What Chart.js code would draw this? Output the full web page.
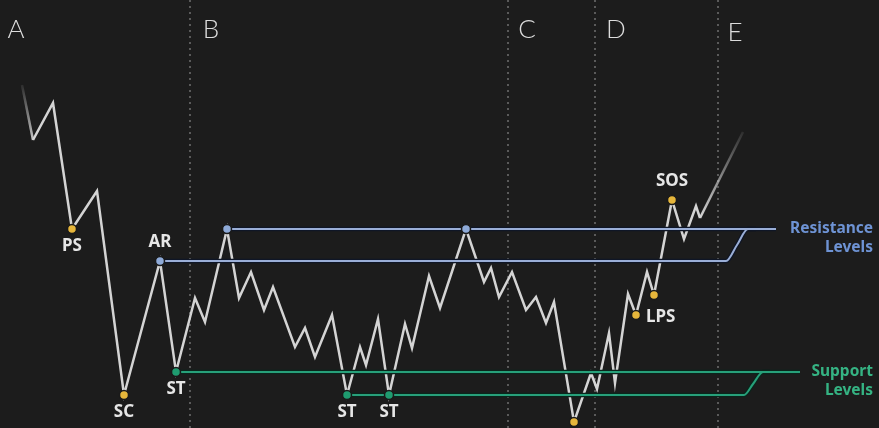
<!DOCTYPE html>
<html>
<head>
<meta charset="utf-8">
<script src="https://cdn.jsdelivr.net/npm/chart.js@4.4.1/dist/chart.umd.min.js"></script>
<style>
  html, body { margin: 0; padding: 0; background: #1c1c1c; }
  #wrap { width: 879px; height: 428px; }
</style>
</head>
<body>
<div id="wrap"><canvas id="wyckoffChart"></canvas></div>
<script>
// price path (x = position along the schematic, y = price in picture units, top = 0)
const priceX = [22, 33, 53, 72, 97, 124, 160, 176, 195, 205, 227, 239, 251, 264, 273, 295, 305, 315, 332, 347,
  360, 366, 378, 389, 405, 412, 429, 440, 466, 484, 491, 499, 512, 526, 536, 546, 554, 574, 591, 597,
  609, 615, 628, 636, 647, 654, 672, 684, 696, 700, 743];
const priceY = [85, 140, 103, 229, 191, 395, 261, 372, 298, 322, 229, 298, 272, 310, 287, 347, 328, 357, 315, 395,
  347, 365, 319, 395, 324, 348, 276, 308, 229, 282, 268, 297, 272, 310, 297, 323, 302, 422, 373, 389,
  333, 383, 294, 315, 272, 295, 200, 239, 206, 218, 132];

// marked events: index into the price path, label, kind
const eventIdx = [3, 5, 6, 7, 10, 19, 23, 28, 37, 43, 45, 46];
const eventLabels = ['PS', 'SC', 'AR', 'ST', '', 'ST', 'ST', '', '', 'LPS', '', 'SOS'];
const eventKind = ['event', 'event', 'high', 'low', 'high', 'low', 'low', 'high', 'event', 'event', 'event', 'event'];
const eventLabelSide = ['below', 'below', 'above', 'below', '', 'below', 'below', '', '', 'right', '', 'above'];

// phases
const phaseLabels = ['A', 'B', 'C', 'D', 'E'];
const phaseLabelX = [16, 211, 527, 616, 735];
const phaseBounds = [190, 508, 595, 718];

// levels
const resistanceY = [229, 261];
const resistanceStart = [227, 160];
const supportY = [372, 395];
const supportStart = [176, 347];

const colors = {
  price: '#d4d4d4',
  event: '#e6b63b',
  high: '#8eaad8',
  low: '#1f9c70',
  resLine: '#9aaed6',
  resEdge: '#0f1626',
  resText: '#6e93d4',
  supLine: '#27a07a',
  supEdge: '#0b251c',
  supText: '#35b383',
  divider: '#5a5a5a',
  text: '#e6e6e6'
};

const pricePoints = priceX.map((x, i) => ({ x, y: priceY[i] }));
const eventPoints = eventIdx.map((i) => ({ x: priceX[i], y: priceY[i] }));

function fadeSegment(ctx) {
  const last = priceX.length - 1;
  const c = ctx.chart.ctx;
  if (ctx.p0DataIndex === 0) {
    const g = c.createLinearGradient(ctx.p0.x, ctx.p0.y, ctx.p1.x, ctx.p1.y);
    g.addColorStop(0, 'rgba(212,212,212,0.1)');
    g.addColorStop(1, 'rgba(212,212,212,0.9)');
    return g;
  }
  if (ctx.p1DataIndex === last) {
    const g = c.createLinearGradient(ctx.p0.x, ctx.p0.y, ctx.p1.x, ctx.p1.y);
    g.addColorStop(0, 'rgba(212,212,212,1)');
    g.addColorStop(1, 'rgba(212,212,212,0.1)');
    return g;
  }
  return undefined;
}

// a level line is drawn twice: a dark edge underneath, the colour on top
function level(points, color, edge) {
  const base = { type: 'line', data: points, pointRadius: 0, cubicInterpolationMode: 'monotone', fill: false };
  return [
    { ...base, borderColor: color, borderWidth: 2, order: 1 },
    { ...base, borderColor: edge, borderWidth: 4.5, order: 2 }
  ];
}

const datasets = [
  {
    type: 'scatter',
    data: eventPoints,
    order: 0,
    pointRadius: 4.5,
    pointBorderWidth: 1.5,
    pointBorderColor: '#1a1a1a',
    pointBackgroundColor: eventKind.map((k) => colors[k])
  },
  {
    type: 'line',
    data: pricePoints,
    order: 3,
    borderColor: colors.price,
    borderWidth: 2.5,
    pointRadius: 0,
    tension: 0,
    borderJoinStyle: 'miter',
    segment: { borderColor: fadeSegment }
  },
  // resistance: upper line runs to the label, lower one bends up into it
  ...level([{ x: resistanceStart[0], y: resistanceY[0] }, { x: 776, y: resistanceY[0] }], colors.resLine, colors.resEdge),
  ...level([{ x: resistanceStart[1], y: resistanceY[1] }, { x: 726, y: resistanceY[1] },
    { x: 737, y: 245 }, { x: 748, y: resistanceY[0] }, { x: 756, y: resistanceY[0] }], colors.resLine, colors.resEdge),
  // support
  ...level([{ x: supportStart[0], y: supportY[0] }, { x: 800, y: supportY[0] }], colors.supLine, colors.supEdge),
  ...level([{ x: supportStart[1], y: supportY[1] }, { x: 744, y: supportY[1] },
    { x: 753, y: 384 }, { x: 763, y: supportY[0] }, { x: 770, y: supportY[0] }], colors.supLine, colors.supEdge)
];

phaseBounds.forEach((x) => {
  datasets.push({
    type: 'line', data: [{ x, y: 0 }, { x, y: 428 }], order: 4,
    borderColor: colors.divider, borderWidth: 2, borderDash: [2, 4], pointRadius: 0
  });
});

const textPlugin = {
  id: 'wyckoffText',
  afterDatasetsDraw(chart) {
    const { ctx, scales: { x, y } } = chart;
    ctx.save();
    ctx.textBaseline = 'middle';

    ctx.fillStyle = '#dcdcdc';
    ctx.font = '300 26px Lato, "DejaVu Sans", sans-serif';
    ctx.textAlign = 'center';
    phaseLabels.forEach((p, i) => {
      ctx.fillText(p, x.getPixelForValue(phaseLabelX[i]), y.getPixelForValue(i === 4 ? 33 : 30));
    });

    ctx.font = 'bold 17px "Noto Sans", "Open Sans", sans-serif';
    ctx.fillStyle = colors.text;
    eventIdx.forEach((idx, i) => {
      const label = eventLabels[i];
      if (!label) return;
      const px = x.getPixelForValue(priceX[idx]);
      const py = y.getPixelForValue(priceY[idx]);
      const side = eventLabelSide[i];
      if (side === 'right') {
        ctx.textAlign = 'left';
        ctx.fillText(label, px + 10, py + 2);
      } else {
        ctx.textAlign = 'center';
        ctx.fillText(label, px, side === 'above' ? py - 19 : py + 17);
      }
    });

    ctx.font = 'bold 15.5px "Noto Sans", "Open Sans", sans-serif';
    ctx.textAlign = 'right';
    const right = x.getPixelForValue(873);
    ctx.fillStyle = colors.resText;
    ctx.fillText('Resistance', right, y.getPixelForValue(resistanceY[0]));
    ctx.fillText('Levels', right, y.getPixelForValue(resistanceY[0] + 19));
    ctx.fillStyle = colors.supText;
    ctx.fillText('Support', right, y.getPixelForValue(supportY[0]));
    ctx.fillText('Levels', right, y.getPixelForValue(supportY[0] + 19));
    ctx.restore();
  }
};

new Chart(document.getElementById('wyckoffChart'), {
  data: { datasets },
  options: {
    responsive: true,
    maintainAspectRatio: false,
    animation: false,
    layout: { padding: 0, autoPadding: false },
    plugins: { legend: { display: false }, tooltip: { enabled: false } },
    scales: {
      x: { type: 'linear', min: 0, max: 879, display: false },
      y: { type: 'linear', min: 0, max: 428, reverse: true, display: false }
    }
  },
  plugins: [textPlugin]
});
</script>
</body>
</html>
